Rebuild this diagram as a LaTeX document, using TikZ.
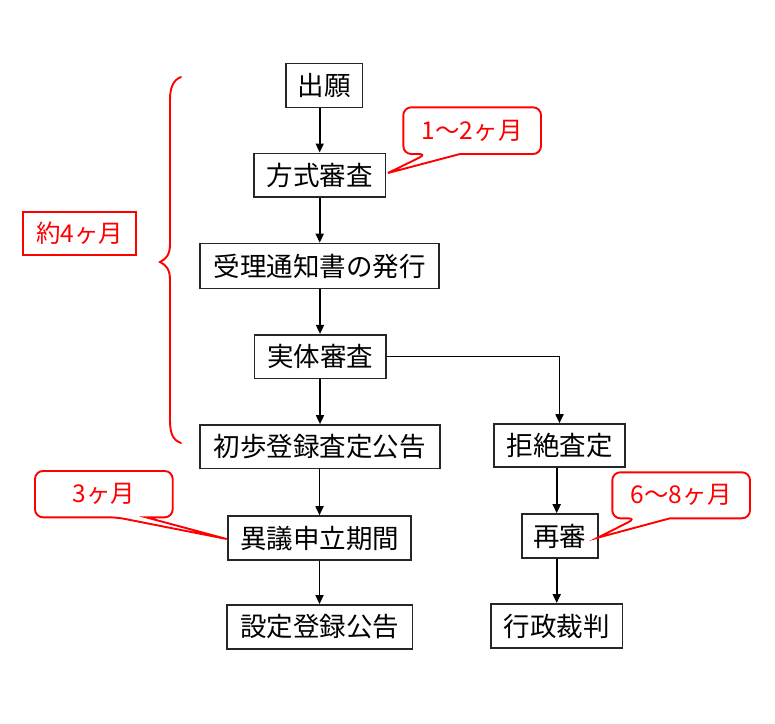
\documentclass[tikz,border=0pt]{standalone}
\usepackage{fontspec}
\setmainfont{Noto Sans CJK JP}
\usetikzlibrary{arrows.meta}
\begin{document}
\begin{tikzpicture}[x=1pt,y=-1pt,
  box/.style={draw=black!85,line width=1.6pt,inner sep=0pt,font=\fontsize{26.5}{26.5}\selectfont,text=black},
  arr/.style={draw=black,line width=1.7pt,-{Triangle[length=9pt,width=8pt]}},
  redline/.style={draw=red,line width=1.9pt},
  redtext/.style={text=red,font=\fontsize{24.5}{24.5}\selectfont,inner sep=0pt}]
\useasboundingbox (0,0) rectangle (775,723);
\fill[white] (0,0) rectangle (775,723);
% main nodes
\node[box,minimum width=76.6pt,minimum height=44pt] (a) at (324,85.3) {出願};
\node[box,minimum width=131.3pt,minimum height=43.4pt] (b) at (319.7,175) {方式審査};
\node[box,minimum width=239pt,minimum height=45pt] (c) at (319.5,266) {受理通知書の発行};
\node[box,minimum width=131.4pt,minimum height=43.6pt] (d) at (320,356.5) {実体審査};
\node[box,minimum width=240pt,minimum height=43.7pt] (e) at (319.7,446.8) {初歩登録査定公告};
\node[box,minimum width=131pt,minimum height=43pt] (f) at (559.5,445.5) {拒絶査定};
\node[box,minimum width=183pt,minimum height=44pt] (g) at (319.5,538) {異議申立期間};
\node[box,minimum width=76pt,minimum height=44pt] (h) at (559.7,536) {再審};
\node[box,minimum width=185.6pt,minimum height=44.3pt] (i) at (319.5,627) {設定登録公告};
\node[box,minimum width=131.3pt,minimum height=44.3pt] (j) at (556.7,626) {行政裁判};
% connectors
\draw[arr] (a.south -| b.north) -- (b.north);
\draw[arr] (b.south) -- (c.north -| b.south);
\draw[arr] (c.south -| d.north) -- (d.north);
\draw[arr] (d.south) -- (e.north -| d.south);
\draw[arr] (e.south -| g.north) -- (g.north);
\draw[arr] (g.south) -- (i.north -| g.south);
\draw[arr] (d.east) -| (f.north);
\draw[arr] (f.south -| j.north) -- (h.north -| j.north);
\draw[arr] (h.south -| j.north) -- (j.north);
% brace
\draw[redline,line cap=round] (181,77) .. controls (173,80) and (170,88) .. (170,100) -- (170,244)
  .. controls (170,255) and (166,259) .. (160,262) .. controls (166,265) and (170,269) .. (170,280)
  -- (170,420) .. controls (170,434) and (173,440) .. (181,443);
% callout 1-2 months
\node[redtext] (t1) at (472.2,131) {1〜2ヶ月};
\draw[redline,line join=miter] (460,154) [rounded corners=8pt] -- (541,154) -- (541,107.3) -- (403.3,107.3) -- (403.3,154) -- (426.7,154) [sharp corners] -- (388,173) -- cycle;
% about 4 months
\node[redtext,draw=red,line width=1.9pt,minimum width=112.7pt,minimum height=43.3pt] (t2) at (79.7,233.3) {約4ヶ月};
% callout 3 months
\node[redtext] (t3) at (103.8,494) {3ヶ月};
\draw[redline,line join=miter] (146,517.3) [rounded corners=8pt] -- (172.7,517.3) -- (172.7,471) -- (35,471) -- (35,517.3) -- (116.7,517.3) [sharp corners] -- (226.7,539) -- cycle;
% callout 6-8 months
\node[redtext] (t4) at (681.2,495.3) {6〜8ヶ月};
\draw[redline,line join=miter] (670,518.3) [rounded corners=8pt] -- (750,518.3) -- (750,472.3) -- (612.3,472.3) -- (612.3,518.3) -- (636,518.3) [sharp corners] -- (597.7,537.7) -- cycle;
\end{tikzpicture}
\end{document}
